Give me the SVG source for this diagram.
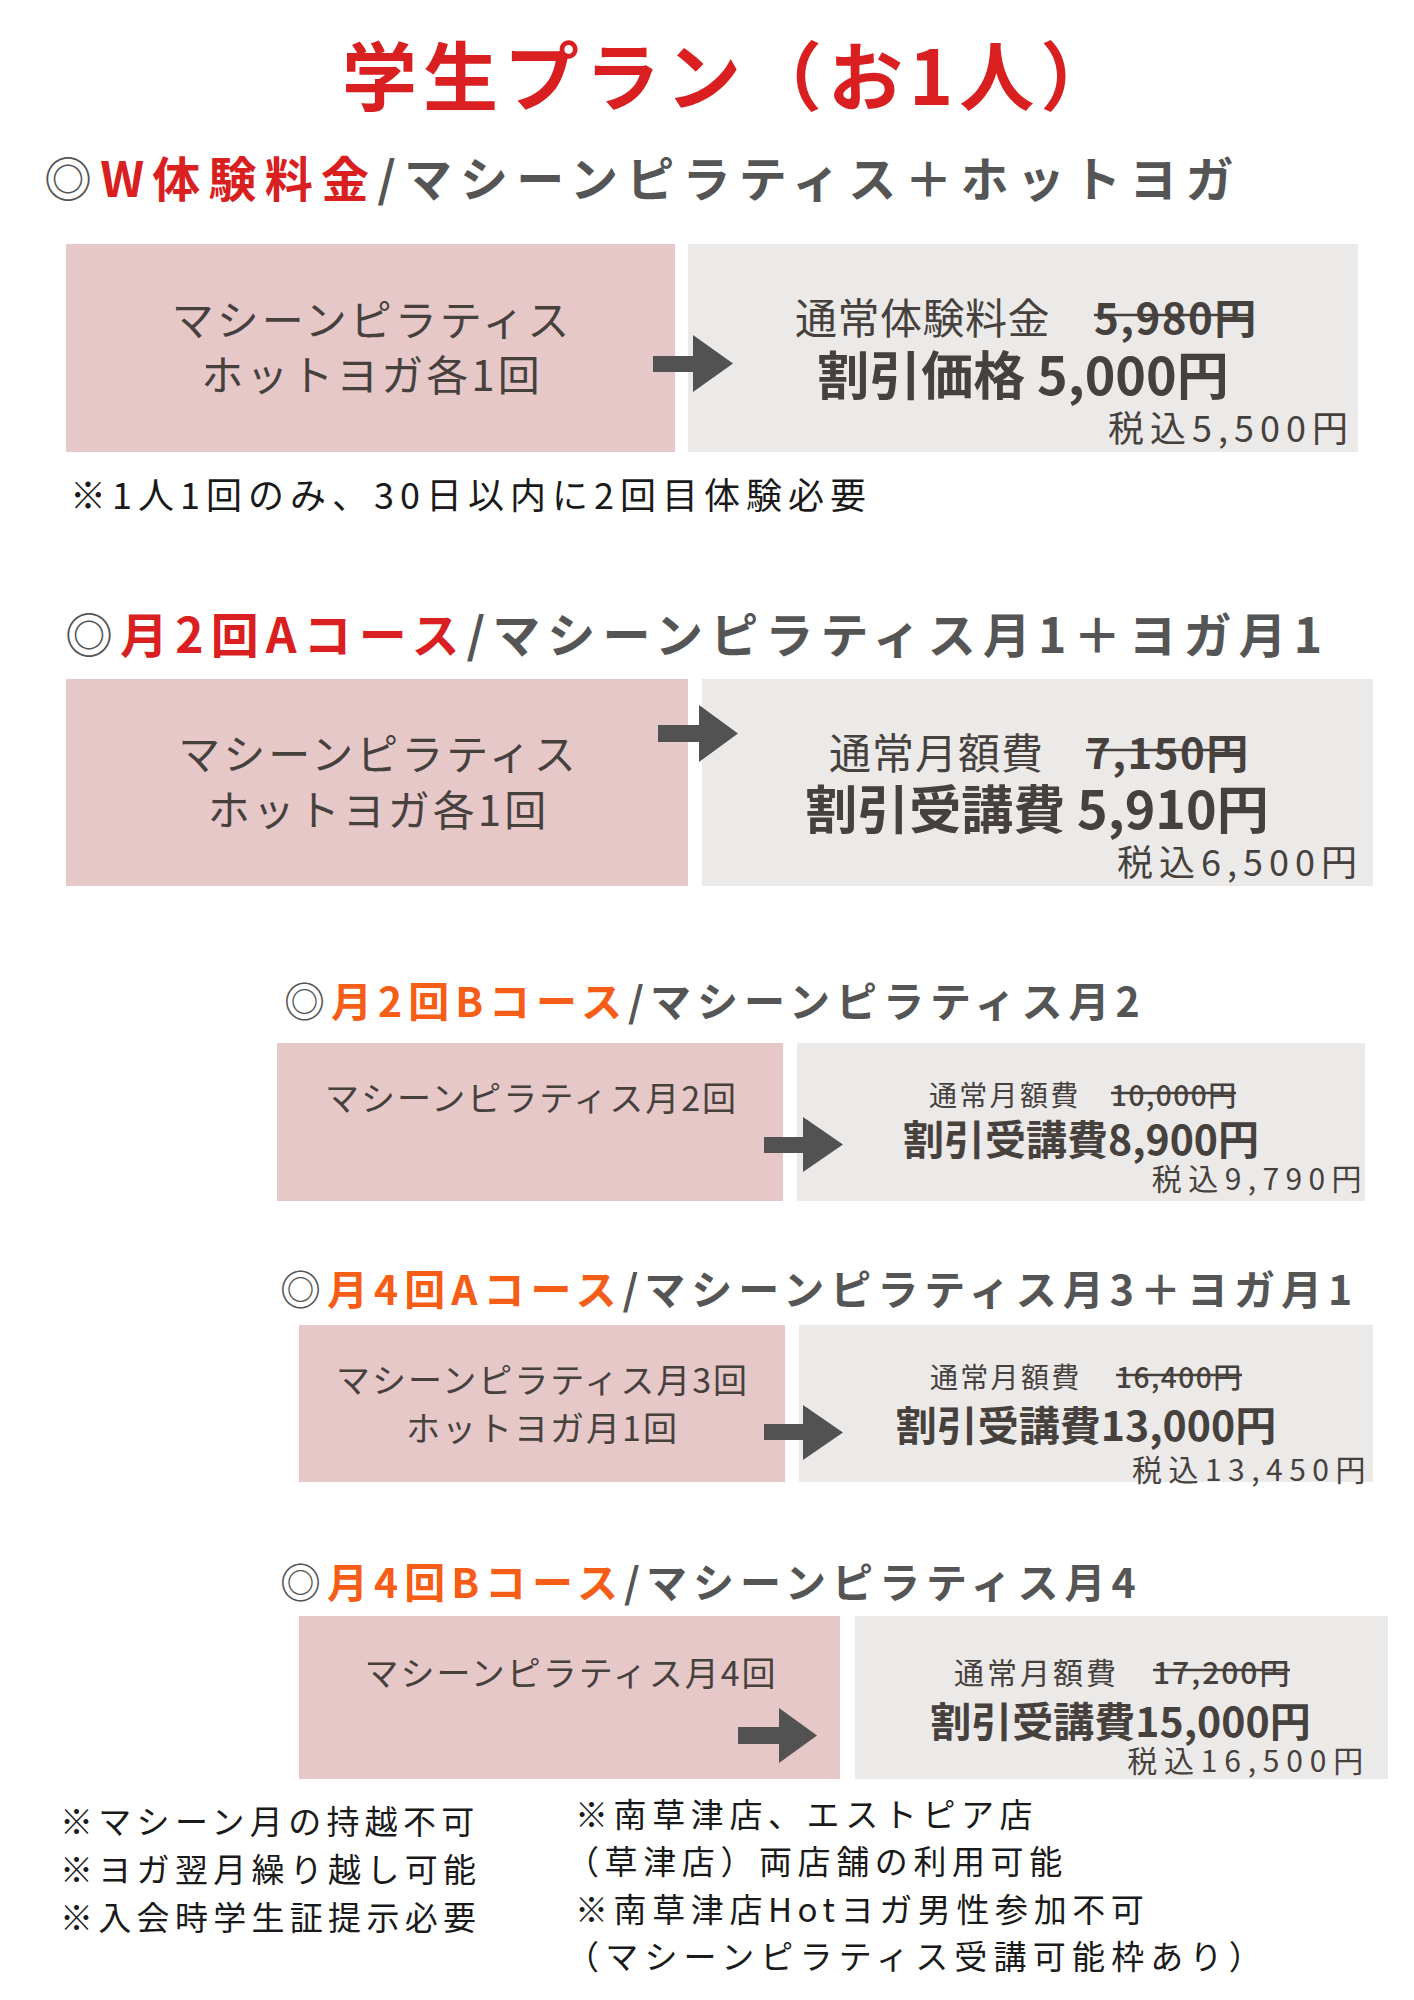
<svg xmlns="http://www.w3.org/2000/svg" width="1414" height="2000" viewBox="0 0 1414 2000">
<style>
text{font-family:"Noto Sans CJK JP","Noto Sans CJK SC",sans-serif;}
.title{font-size:75px;font-weight:700;fill:#d91f1f;letter-spacing:6px;}
.hA{font-size:48px;font-weight:700;fill:#555555;}
.hB{font-size:41px;font-weight:700;fill:#555555;letter-spacing:6px;}
.circ{font-weight:400;}
.red{fill:#d91f1f;}
.org{fill:#f65d17;}
.pink{fill:#e6c8c9;}
.gray{fill:#ebeae8;}
.pt{fill:#47413e;font-weight:400;text-anchor:middle;}
.nt{fill:#47413e;font-weight:400;}
.old{fill:#47413e;font-weight:700;}
.old2{fill:#47413e;font-weight:500;}
.bt{fill:#47413e;font-weight:700;text-anchor:middle;}
.tax{fill:#47413e;font-weight:400;text-anchor:end;}
.strike{stroke:#47413e;stroke-width:2.5;}
.note{fill:#1a1a1a;font-weight:400;}
.arrow{fill:#525252;}
</style>

<g id="title">
<text class="title" x="342" y="105">学生プラン（お1人）</text>
</g>

<!-- Section 1 -->
<g id="heading1">
<text class="hA" x="44" y="197" letter-spacing="8.2"><tspan class="circ">◎</tspan><tspan class="red">W体験料金</tspan>/マシーンピラティス＋ホットヨガ</text>
</g>
<g id="box1-plan">
<rect class="pink" x="66" y="244" width="609" height="208"/>
<text class="pt" x="372" y="336" font-size="42" letter-spacing="3">マシーンピラティス</text>
<text class="pt" x="372" y="391" font-size="42" letter-spacing="3">ホットヨガ各1回</text>
</g>
<g id="box1-price">
<rect class="gray" x="688" y="244" width="670" height="208"/>
<text class="nt" x="795" y="334" font-size="42" letter-spacing="0.5">通常体験料金</text>
<text class="old" x="1094" y="334" font-size="42" letter-spacing="1.5">5,980円</text>
<line class="strike" x1="1094" y1="315" x2="1253" y2="315"/>
<text class="bt" x="1023" y="395" font-size="52">割引価格 5,000円</text>
<text class="tax" x="1354" y="442" font-size="36" letter-spacing="6">税込5,500円</text>
</g>
<g id="note1">
<text class="note" x="70" y="509" font-size="36" letter-spacing="6">※1人1回のみ、30日以内に2回目体験必要</text>
</g>

<!-- Section 2 -->
<g id="heading2">
<text class="hA" x="65" y="653" letter-spacing="7.1"><tspan class="circ">◎</tspan><tspan class="red">月2回Aコース</tspan>/マシーンピラティス月1＋ヨガ月1</text>
</g>
<g id="box2-plan">
<rect class="pink" x="66" y="679" width="622" height="207"/>
<text class="pt" x="378.5" y="770" font-size="42" letter-spacing="3">マシーンピラティス</text>
<text class="pt" x="378.5" y="826" font-size="42" letter-spacing="3">ホットヨガ各1回</text>
</g>
<g id="box2-price">
<rect class="gray" x="702" y="679" width="671" height="207"/>
<text class="nt" x="829" y="769" font-size="42" letter-spacing="1">通常月額費</text>
<text class="old" x="1086" y="769" font-size="42" letter-spacing="1.5">7,150円</text>
<line class="strike" x1="1086" y1="750" x2="1245" y2="750"/>
<text class="bt" x="1037" y="829" font-size="52">割引受講費 5,910円</text>
<text class="tax" x="1363" y="876" font-size="36" letter-spacing="6">税込6,500円</text>
</g>

<!-- Section 3 -->
<g id="heading3">
<text class="hB" x="284" y="1017"><tspan class="circ">◎</tspan><tspan class="org">月2回Bコース</tspan>/マシーンピラティス月2</text>
</g>
<g id="box3-plan">
<rect class="pink" x="277" y="1043" width="506" height="158"/>
<text class="pt" x="531.5" y="1111" font-size="34" letter-spacing="2">マシーンピラティス月2回</text>
</g>
<g id="box3-price">
<rect class="gray" x="797" y="1043" width="568" height="158"/>
<text class="nt" x="929" y="1106" font-size="28" letter-spacing="2.3">通常月額費</text>
<text class="old2" x="1111" y="1106" font-size="28" letter-spacing="1.5">10,000円</text>
<line class="strike" x1="1111" y1="1093" x2="1236" y2="1093"/>
<text class="bt" x="1081" y="1155" font-size="41">割引受講費8,900円</text>
<text class="tax" x="1368" y="1190" font-size="30" letter-spacing="6.4">税込9,790円</text>
</g>

<!-- Section 4 -->
<g id="heading4">
<text class="hB" x="280" y="1305"><tspan class="circ">◎</tspan><tspan class="org">月4回Aコース</tspan>/マシーンピラティス月3＋ヨガ月1</text>
</g>
<g id="box4-plan">
<rect class="pink" x="299" y="1325" width="486" height="157"/>
<text class="pt" x="542.5" y="1393" font-size="34" letter-spacing="2">マシーンピラティス月3回</text>
<text class="pt" x="542.5" y="1441" font-size="34" letter-spacing="2">ホットヨガ月1回</text>
</g>
<g id="box4-price">
<rect class="gray" x="799" y="1325" width="574" height="157"/>
<text class="nt" x="930" y="1388" font-size="28" letter-spacing="2.3">通常月額費</text>
<text class="old2" x="1116" y="1388" font-size="28" letter-spacing="1.5">16,400円</text>
<line class="strike" x1="1116" y1="1375" x2="1242" y2="1375"/>
<text class="bt" x="1086" y="1441" font-size="41">割引受講費13,000円</text>
<text class="tax" x="1372" y="1481" font-size="30" letter-spacing="6.5">税込13,450円</text>
</g>

<!-- Section 5 -->
<g id="heading5">
<text class="hB" x="280" y="1598"><tspan class="circ">◎</tspan><tspan class="org">月4回Bコース</tspan>/マシーンピラティス月4</text>
</g>
<g id="box5-plan">
<rect class="pink" x="299" y="1616" width="541" height="163"/>
<text class="pt" x="571" y="1686" font-size="34" letter-spacing="2">マシーンピラティス月4回</text>
</g>
<g id="box5-price">
<rect class="gray" x="855" y="1616" width="533" height="163"/>
<text class="nt" x="954" y="1684" font-size="30" letter-spacing="3">通常月額費</text>
<text class="old2" x="1153" y="1684" font-size="30" letter-spacing="2">17,200円</text>
<line class="strike" x1="1153" y1="1670" x2="1290" y2="1670"/>
<text class="bt" x="1120.5" y="1737" font-size="41">割引受講費15,000円</text>
<text class="tax" x="1370" y="1772" font-size="30" letter-spacing="6.8">税込16,500円</text>
</g>

<!-- Footer notes -->
<g id="notes-left">
<text class="note" x="60" y="1834" font-size="33" letter-spacing="5.3">※マシーン月の持越不可</text>
<text class="note" x="60" y="1882" font-size="33" letter-spacing="5.3">※ヨガ翌月繰り越し可能</text>
<text class="note" x="60" y="1930" font-size="33" letter-spacing="5.3">※入会時学生証提示必要</text>
</g>
<g id="notes-right">
<text class="note" x="575" y="1827" font-size="33" letter-spacing="5.6">※南草津店、エストピア店</text>
<text class="note" x="566" y="1874" font-size="33" letter-spacing="5.6">（草津店）両店舗の利用可能</text>
<text class="note" x="575" y="1922" font-size="33" letter-spacing="5.6">※南草津店Hotヨガ男性参加不可</text>
<text class="note" x="566" y="1969" font-size="33" letter-spacing="6.2">（マシーンピラティス受講可能枠あり）</text>
</g>

<!-- Connectors -->
<g id="connectors">
<polygon class="arrow" points="653,356 693,356 693,335 733,363.5 693,392 693,372 653,372"/>
<polygon class="arrow" points="658,725 699,725 699,705 738,733.5 699,762 699,742 658,742"/>
<polygon class="arrow" points="764,1137 803,1137 803,1117 843,1144.5 803,1172 803,1153 764,1153"/>
<polygon class="arrow" points="764,1424 803,1424 803,1405 843,1432.5 803,1460 803,1440 764,1440"/>
<polygon class="arrow" points="738,1727 779,1727 779,1708 817,1735.5 779,1763 779,1744 738,1744"/>
</g>
</svg>
